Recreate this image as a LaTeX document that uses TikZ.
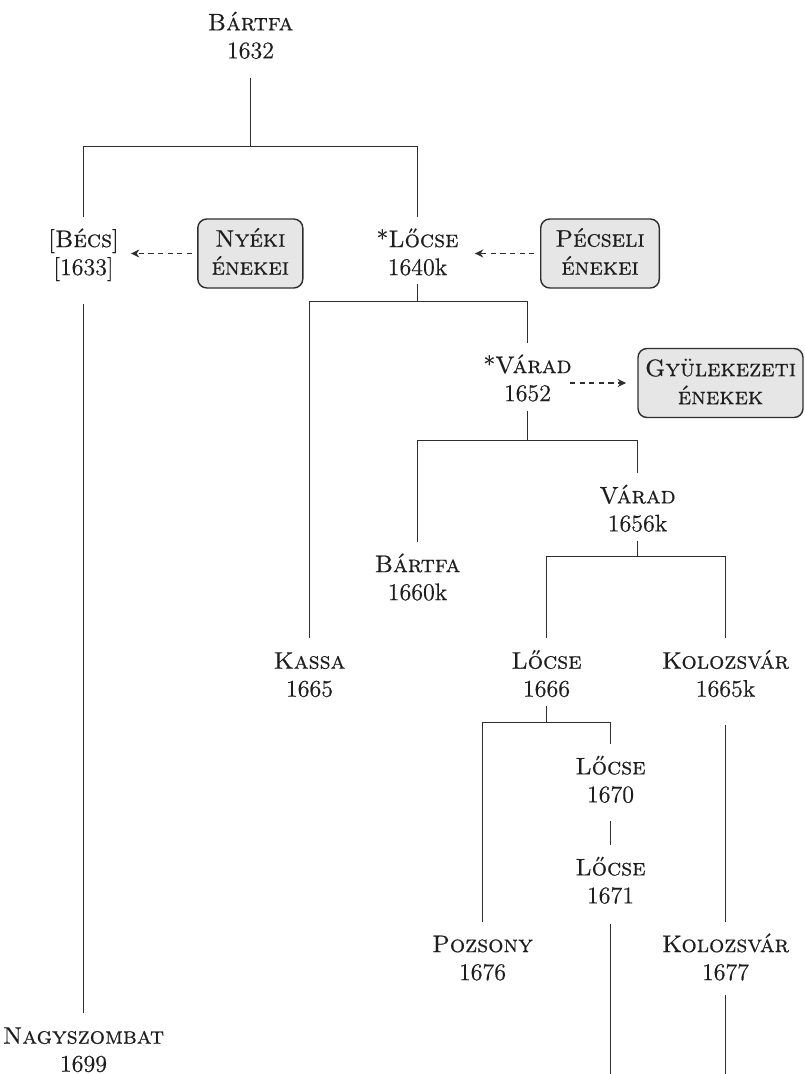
\documentclass[tikz,border=0pt]{standalone}
\usepackage{fontspec}
\setmainfont{lmroman12-regular.otf}[
  SmallCapsFont=lmromancaps10-regular.otf,
  RawFeature={embolden=0.5},
  SmallCapsFeatures={RawFeature={embolden=0.5}}]
\usetikzlibrary{arrows.meta}

\definecolor{ink}{HTML}{1E1E1E}
\definecolor{edge}{HTML}{2E2E2E}
\definecolor{boxfill}{HTML}{E6E6E6}

% struts that fix the distance from the text to the connectors
\newcommand\hiStrut{\rule{0pt}{15pt}}
\newcommand\loStrut{\rule[-4.5pt]{0pt}{4.5pt}}
\newcommand\boxStrut{\rule{0pt}{11.7pt}}

\begin{document}
\begin{tikzpicture}[x=0.5pt,y=-0.5pt,
  tree font/.style={font=\fontsize{12}{14}\selectfont},
  place/.style={tree font, align=center, inner sep=0pt, anchor=north, text=ink},
  srcbox/.style={tree font, align=center, inner sep=0pt, text=ink, draw=edge,
    fill=boxfill, line width=0.7pt, rounded corners=4.5pt, minimum height=34.5pt},
  branch/.style={draw=edge, line width=0.7pt},
  borrow/.style={draw=edge, line width=0.65pt, dash pattern=on 2.6pt off 2.2pt,
    -{Stealth[length=4.2pt,width=4pt]}},
]
\useasboundingbox (0,0) rectangle (804,1074);

% editions
\node[place] (bartfa1) at (250.5,0)     {\hiStrut\textsc{Bártfa}\\1632\loStrut};
\node[place] (becs)    at (83.5,216.7)  {\hiStrut[\textsc{Bécs}]\\{}[1633]\loStrut};
\node[place] (lo1)     at (417.5,216.7) {\hiStrut*\textsc{Lőcse}\\1640k\loStrut};
\node[place] (varad1)  at (527.5,342.7) {\hiStrut*\textsc{Várad}\\1652\loStrut};
\node[place] (varad2)  at (637.5,473)   {\hiStrut\textsc{Várad}\\1656k\loStrut};
\node[place] (bartfa2) at (417.5,541.7) {\hiStrut\textsc{Bártfa}\\1660k\loStrut};
\node[place] (kassa)   at (309.5,638.3) {\hiStrut\textsc{Kassa}\\1665\loStrut};
\node[place] (lo2)     at (546.5,638.3) {\hiStrut\textsc{Lőcse}\\1666\loStrut};
\node[place] (kol1)    at (725.5,638.3) {\hiStrut\textsc{Kolozsvár}\\1665k\loStrut};
\node[place] (lo3)     at (610.5,744)   {\hiStrut\textsc{Lőcse}\\1670\loStrut};
\node[place] (lo4)     at (610.5,845)   {\hiStrut\textsc{Lőcse}\\1671\loStrut};
\node[place] (pozsony) at (482.5,921.7) {\hiStrut\textsc{Pozsony}\\1676\loStrut};
\node[place] (kol2)    at (725.5,921.7) {\hiStrut\textsc{Kolozsvár}\\1677\loStrut};
\node[place] (nagy)    at (83.5,1013.3) {\hiStrut\textsc{Nagyszombat}\\1699\loStrut};

% song collections
\node[srcbox, minimum width=52.5pt] (nyeki)   at (250.3,253.5) {\boxStrut\textsc{Nyéki}\\\textsc{énekei}\loStrut};
\node[srcbox, minimum width=59.3pt] (pecseli) at (600,253.5)   {\boxStrut\textsc{Pécseli}\\\textsc{énekei}\loStrut};
\node[srcbox, minimum width=82.5pt] (gyul)    at (720.5,383)   {\boxStrut\textsc{Gyülekezeti}\\\textsc{énekek}\loStrut};

% branching points and open ends
\coordinate (j1) at (250.5,146.5);
\coordinate (j2) at (417.5,301.5);
\coordinate (j3) at (527.5,440.5);
\coordinate (j4) at (637.5,556.5);
\coordinate (j5) at (546.5,722.5);
\coordinate (end1) at (610.5,1074);
\coordinate (end2) at (725.5,1074);

% stemma
\draw[branch, shorten <=5.3pt] (bartfa1.south) -- (j1);
\draw[branch] (becs.north) |- (j1) -| (lo1.north);
\draw[branch] (lo1.south) -- (j2);
\draw[branch] (kassa.north) |- (j2) -| (varad1.north);
\draw[branch] (varad1.south) -- (j3);
\draw[branch] (bartfa2.north) |- (j3) -| (varad2.north);
\draw[branch] (varad2.south) -- (j4);
\draw[branch] (lo2.north) |- (j4) -| (kol1.north);
\draw[branch] (lo2.south) -- (j5);
\draw[branch] (pozsony.north) |- (j5) -| (lo3.north);
\draw[branch, shorten <=4.6pt] (lo3.south) -- (lo4.north);
\draw[branch, shorten <=5.5pt] (lo4.south) -- (end1);
\draw[branch, shorten <=9.4pt] (kol1.south) -- (kol2.north);
\draw[branch, shorten <=2.5pt] (kol2.south) -- (end2);
\draw[branch, shorten <=10pt] (becs.south) -- (nagy.north);

% borrowings
\draw[borrow, shorten <=2.6pt, shorten >=6pt] (nyeki.west) -- (becs.east |- nyeki.west);
\draw[borrow, shorten <=2.8pt, shorten >=8pt] (pecseli.west) -- (lo1.east |- pecseli.west);
\draw[borrow, shorten <=-1pt, shorten >=5.6pt] (varad1.east |- gyul.west) -- (gyul.west);
\end{tikzpicture}
\end{document}
